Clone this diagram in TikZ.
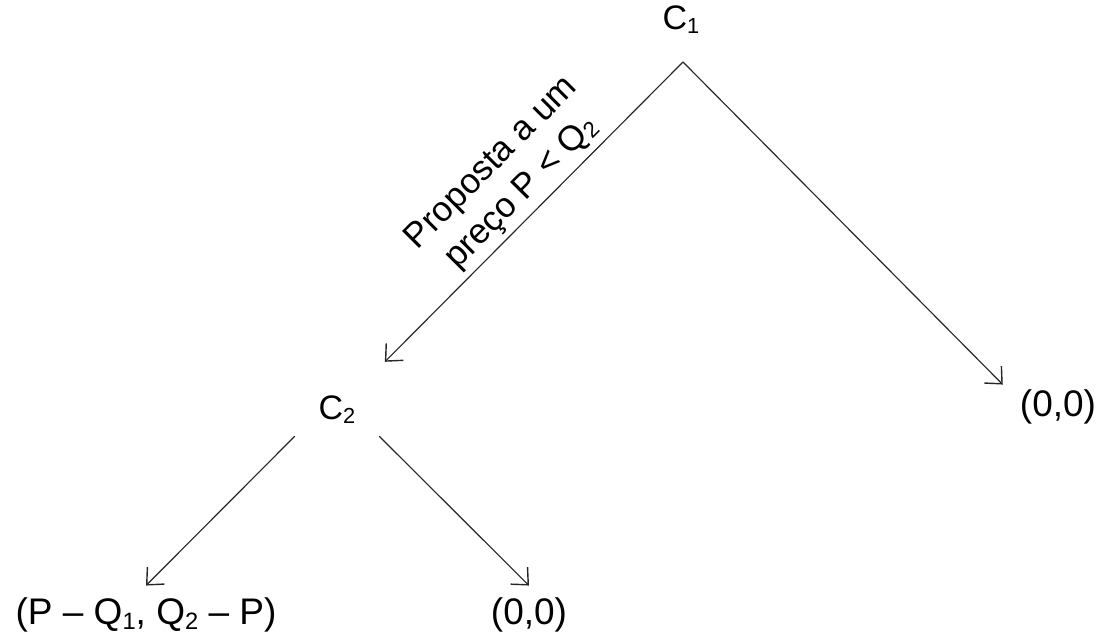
\documentclass[tikz,border=0pt]{standalone}
\usepackage{fontspec}
\setmainfont{Liberation Sans}
\usetikzlibrary{arrows.meta}
\newcommand{\lowsub}[1]{\raisebox{-0.12em}{\scalebox{0.64}{#1}}}
\begin{document}
\begin{tikzpicture}[x=1pt, y=1pt,
    player/.style={font=\fontsize{34}{40}\selectfont, inner sep=0pt},
    payoff/.style={font=\fontsize{37}{42}\selectfont, inner xsep=2pt, inner ysep=12pt},
    move/.style={draw=black!85, line width=1.15pt, -{Straight Barb[length=13pt, width=24pt, line width=1.4pt]}}]
    \useasboundingbox (0,0) rectangle (1104,642);
    % decision nodes
    \node[player] (c1) at (681,622) {C\lowsub{1}};
    \coordinate (split) at (683,580);
    \node[player, minimum width=84pt, minimum height=52pt] (c2) at (337,232) {C\lowsub{2}};
    % payoffs
    \node[payoff, inner xsep=17pt, inner ysep=5pt] (right) at (1058,235) {(0,0)};
    \node[payoff] (accept) at (146,27) {(P -- Q\lowsub{1}, Q\lowsub{2} -- P)};
    \node[payoff] (reject) at (529,27) {(0,0)};
    % moves of C1
    \draw[move, shorten >=31pt] (split) -- (c2)
        node[pos=0.455, sloped, above=2pt, align=center, font=\fontsize{35}{42}\selectfont]
        {Proposta a um\\preço P < Q\lowsub{2}};
    \draw[move] (split) -- (right.north west);
    % moves of C2
    \draw[move] (c2.south west) -- (accept.north);
    \draw[move] (c2.south east) -- (reject.north);
\end{tikzpicture}
\end{document}
